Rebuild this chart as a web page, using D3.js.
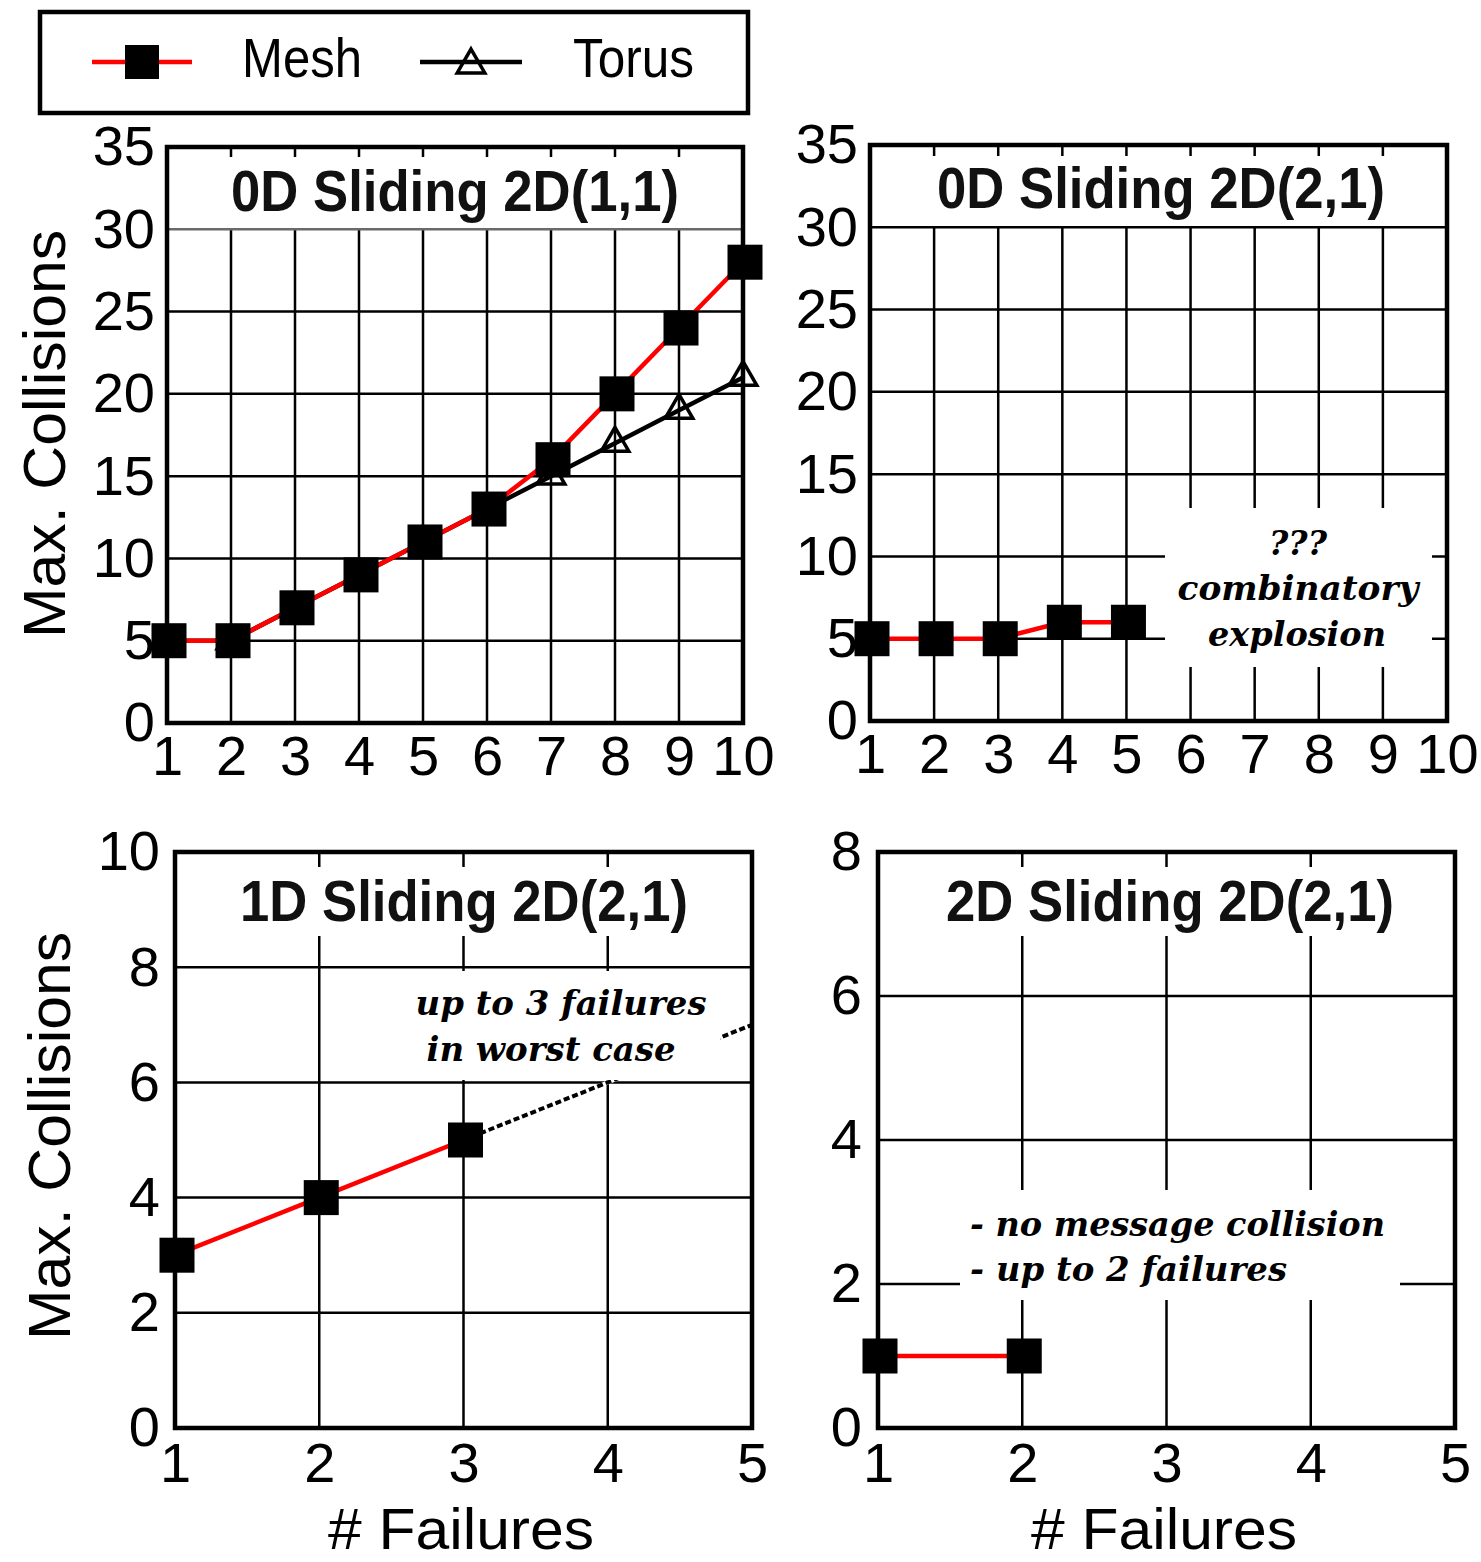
<!DOCTYPE html>
<html>
<head>
<meta charset="utf-8">
<script src="https://cdn.jsdelivr.net/npm/d3@7"></script>
<style>
  body { margin: 0; background: #fff; }
  svg { display: block; }
</style>
</head>
<body>
<svg id="chart" width="1481" height="1562"></svg>
<script>
// ---- data ----
const failuresTop = [1, 2, 3, 4, 5, 6, 7, 8, 9, 10];
const meshSliding0D11 = [5, 5, 7, 9, 11, 13, 16, 20, 24, 28];
const torusSliding0D11 = [5, 5, 7, 9, 11, 13, 15, 17, 19, 21];

const failuresSliding0D21 = [1, 2, 3, 4, 5];
const meshSliding0D21 = [5, 5, 5, 6, 6];

const failuresSliding1D21 = [1, 2, 3];
const meshSliding1D21 = [3, 4, 5];
const worstCaseFailures = [3, 5];
const worstCaseSliding1D21 = [5, 7];

const failuresSliding2D21 = [1, 2];
const meshSliding2D21 = [1, 1];

const xTicksTop = [1, 2, 3, 4, 5, 6, 7, 8, 9, 10];
const xTicksBottom = [1, 2, 3, 4, 5];
const yTicksTop = [0, 5, 10, 15, 20, 25, 30, 35];
const yTicks1D = [0, 2, 4, 6, 8, 10];
const yTicks2D = [0, 2, 4, 6, 8];

const seriesNames = ["Mesh", "Torus"];

// ---- styles ----
const SANS = "'Liberation Sans', Arial, Helvetica, sans-serif";
const SERIF = "'DejaVu Serif', Georgia, serif";
const MESH_COLOR = "#ff0000";
const SQUARE = 35;
const SQUARE_DX = 2;

const svg = d3.select("#chart");
svg.append("rect").attr("width", 1481).attr("height", 1562).attr("fill", "#fff");

const triPath = d3.symbol().type(d3.symbolTriangle).size(330)();

function panel(cfg) {
  const g = svg.append("g");
  const x = d3.scaleLinear().domain(cfg.xDomain).range([cfg.left, cfg.right]);
  const y = d3.scaleLinear().domain(cfg.yDomain).range([cfg.bottom, cfg.top]);

  // vertical grid
  g.append("g").selectAll("line").data(cfg.xTicks.slice(1, -1)).join("line")
    .attr("x1", d => x(d)).attr("x2", d => x(d))
    .attr("y1", cfg.top).attr("y2", cfg.bottom)
    .attr("stroke", "#000").attr("stroke-width", 2.5);

  // title band
  g.append("rect")
    .attr("x", cfg.left + 3).attr("width", cfg.right - cfg.left - 6)
    .attr("y", cfg.top + cfg.titleBand[0]).attr("height", cfg.titleBand[1] - cfg.top - cfg.titleBand[0])
    .attr("fill", "#fff");

  // horizontal grid
  g.append("g").selectAll("line").data(cfg.yTicks.slice(1, -1)).join("line")
    .attr("x1", cfg.left).attr("x2", cfg.right)
    .attr("y1", d => y(d)).attr("y2", d => y(d))
    .attr("stroke", d => (cfg.grayGrid === d ? "#6a6a6a" : "#000"))
    .attr("stroke-width", 2.5);

  // projected worst case (dashed)
  if (cfg.worst) {
    const wl = d3.line().x((d, i) => x(cfg.worst.x[i])).y(d => y(d));
    g.append("path").attr("d", wl(cfg.worst.y)).attr("fill", "none")
      .attr("stroke", "#fff").attr("stroke-width", 4);
    g.append("path").attr("d", wl(cfg.worst.y)).attr("fill", "none")
      .attr("stroke", "#000").attr("stroke-width", 4).attr("stroke-dasharray", "6,3");
  }

  // annotation backdrop + text
  if (cfg.note) {
    g.append("rect")
      .attr("x", cfg.note.box[0]).attr("y", cfg.note.box[1])
      .attr("width", cfg.note.box[2] - cfg.note.box[0])
      .attr("height", cfg.note.box[3] - cfg.note.box[1])
      .attr("fill", "#fff");
    cfg.note.lines.forEach(l => {
      const t = g.append("text")
        .attr("x", l.x).attr("y", l.y)
        .attr("text-anchor", l.anchor || "middle")
        .attr("font-family", SERIF).attr("font-weight", "bold").attr("font-style", "italic")
        .attr("font-size", cfg.note.size).attr("fill", "#000")
        .text(l.text);
      if (l.len) t.attr("textLength", l.len).attr("lengthAdjust", "spacingAndGlyphs");
    });
  }

  // title
  g.append("text")
    .attr("x", cfg.titlePos[0]).attr("y", cfg.titlePos[1])
    .attr("text-anchor", "middle")
    .attr("font-family", SANS).attr("font-weight", "bold")
    .attr("font-size", 58).attr("fill", "#111")
    .attr("textLength", 448).attr("lengthAdjust", "spacingAndGlyphs")
    .text(cfg.title);

  // torus series
  if (cfg.torus) {
    const tl = d3.line().x((d, i) => x(cfg.xs[i])).y(d => y(d));
    g.append("path").attr("d", tl(cfg.torus)).attr("fill", "none")
      .attr("stroke", "#000").attr("stroke-width", 4.5);
  }

  // mesh line
  const ml = d3.line().x((d, i) => x(cfg.xs[i])).y(d => y(d));
  g.append("path").attr("d", ml(cfg.mesh)).attr("fill", "none")
    .attr("stroke", MESH_COLOR).attr("stroke-width", 4.5);

  // frame
  g.append("rect")
    .attr("x", cfg.left).attr("y", cfg.top)
    .attr("width", cfg.right - cfg.left).attr("height", cfg.bottom - cfg.top)
    .attr("fill", "none").attr("stroke", "#000").attr("stroke-width", 4.5);

  // torus markers
  if (cfg.torus) {
    g.append("g").selectAll("path").data(cfg.torus).join("path")
      .attr("d", triPath)
      .attr("transform", (d, i) => `translate(${x(cfg.xs[i])},${y(d)})`)
      .attr("fill", "none").attr("stroke", "#000").attr("stroke-width", 3.5);
  }

  // mesh markers
  g.append("g").selectAll("rect").data(cfg.mesh).join("rect")
    .attr("x", (d, i) => x(cfg.xs[i]) + SQUARE_DX - SQUARE / 2)
    .attr("y", d => y(d) - SQUARE / 2)
    .attr("width", SQUARE).attr("height", SQUARE)
    .attr("fill", "#000");

  // axes (labels only)
  const ax = g.append("g").attr("transform", `translate(0,${cfg.bottom})`)
    .call(d3.axisBottom(x).tickValues(cfg.xTicks).tickSize(0).tickPadding(cfg.xPad).tickFormat(d3.format("d")));
  ax.select(".domain").remove();
  ax.selectAll("text").attr("font-family", SANS).attr("font-size", 56).attr("fill", "#000");

  const ay = g.append("g").attr("transform", `translate(${cfg.left},0)`)
    .call(d3.axisLeft(y).tickValues(cfg.yTicks).tickSize(0).tickPadding(cfg.yPad).tickFormat(d3.format("d")));
  ay.select(".domain").remove();
  ay.selectAll("text").attr("font-family", SANS).attr("font-size", 56).attr("fill", "#000");
  return { x, y };
}

// 0D Sliding 2D(1,1)
panel({
  left: 167, right: 743, top: 147, bottom: 723,
  xDomain: [1, 10], yDomain: [0, 35],
  xTicks: xTicksTop, yTicks: yTicksTop,
  xs: failuresTop, mesh: meshSliding0D11, torus: torusSliding0D11,
  title: "0D Sliding 2D(1,1)", titlePos: [455, 211],
  titleBand: [10, 228], grayGrid: 30,
  xPad: 12, yPad: 12
});

// 0D Sliding 2D(2,1)
panel({
  left: 870, right: 1447, top: 145, bottom: 721,
  xDomain: [1, 10], yDomain: [0, 35],
  xTicks: xTicksTop, yTicks: yTicksTop,
  xs: failuresSliding0D21, mesh: meshSliding0D21,
  title: "0D Sliding 2D(2,1)", titlePos: [1161, 208],
  titleBand: [11, 226],
  note: {
    box: [1165, 508, 1432, 667], size: 33,
    lines: [
      { text: "???", x: 1298, y: 555 },
      { text: "combinatory", x: 1298, y: 600, len: 241 },
      { text: "explosion", x: 1297, y: 646, len: 178 }
    ]
  },
  xPad: 12, yPad: 12
});

// 1D Sliding 2D(2,1)
panel({
  left: 175, right: 752, top: 852, bottom: 1428,
  xDomain: [1, 5], yDomain: [0, 10],
  xTicks: xTicksBottom, yTicks: yTicks1D,
  xs: failuresSliding1D21, mesh: meshSliding1D21,
  worst: { x: worstCaseFailures, y: worstCaseSliding1D21 },
  title: "1D Sliding 2D(2,1)", titlePos: [464, 921],
  titleBand: [15, 936],
  note: {
    box: [400, 971, 720, 1080], size: 33,
    lines: [
      { text: "up to 3 failures", x: 561, y: 1015, len: 291 },
      { text: "in worst case", x: 551, y: 1061, len: 249 }
    ]
  },
  xPad: 14, yPad: 15
});

// 2D Sliding 2D(2,1)
panel({
  left: 878, right: 1455, top: 852, bottom: 1428,
  xDomain: [1, 5], yDomain: [0, 8],
  xTicks: xTicksBottom, yTicks: yTicks2D,
  xs: failuresSliding2D21, mesh: meshSliding2D21,
  title: "2D Sliding 2D(2,1)", titlePos: [1170, 921],
  titleBand: [15, 936],
  note: {
    box: [960, 1190, 1400, 1300], size: 33,
    lines: [
      { text: "- no message collision", x: 970, y: 1236, anchor: "start", len: 415 },
      { text: "- up to 2 failures", x: 970, y: 1281, anchor: "start", len: 317 }
    ]
  },
  xPad: 14, yPad: 16
});

// axis titles
[[65, 434], [70, 1136]].forEach(p => {
  svg.append("text")
    .attr("transform", `translate(${p[0]},${p[1]}) rotate(-90)`)
    .attr("text-anchor", "middle")
    .attr("font-family", SANS).attr("font-size", 60).attr("fill", "#000")
    .attr("textLength", 408).attr("lengthAdjust", "spacingAndGlyphs")
    .text("Max. Collisions");
});
[461, 1164].forEach(cx => {
  svg.append("text")
    .attr("x", cx).attr("y", 1549)
    .attr("text-anchor", "middle")
    .attr("font-family", SANS).attr("font-size", 58).attr("fill", "#000")
    .attr("textLength", 266).attr("lengthAdjust", "spacingAndGlyphs")
    .text("# Failures");
});

// legend
const legend = svg.append("g");
legend.append("rect")
  .attr("x", 40).attr("y", 12).attr("width", 708).attr("height", 101)
  .attr("fill", "#fff").attr("stroke", "#000").attr("stroke-width", 4.5);
const legendItems = [
  { name: seriesNames[0], x0: 92, x1: 192, tx: 242, len: 120, color: MESH_COLOR, marker: "square" },
  { name: seriesNames[1], x0: 420, x1: 522, tx: 573, len: 121, color: "#000", marker: "triangle" }
];
legendItems.forEach(it => {
  legend.append("line")
    .attr("x1", it.x0).attr("x2", it.x1).attr("y1", 62).attr("y2", 62)
    .attr("stroke", it.color).attr("stroke-width", 4.5);
  const cx = (it.x0 + it.x1) / 2;
  if (it.marker === "square") {
    legend.append("rect").attr("x", cx - 17).attr("y", 45).attr("width", 34).attr("height", 34).attr("fill", "#000");
  } else {
    legend.append("path").attr("d", triPath).attr("transform", `translate(${cx},65)`)
      .attr("fill", "none").attr("stroke", "#000").attr("stroke-width", 3.5);
  }
  legend.append("text")
    .attr("x", it.tx).attr("y", 77)
    .attr("font-family", SANS).attr("font-size", 56).attr("fill", "#000")
    .attr("textLength", it.len).attr("lengthAdjust", "spacingAndGlyphs")
    .text(it.name);
});
</script>
</body>
</html>
